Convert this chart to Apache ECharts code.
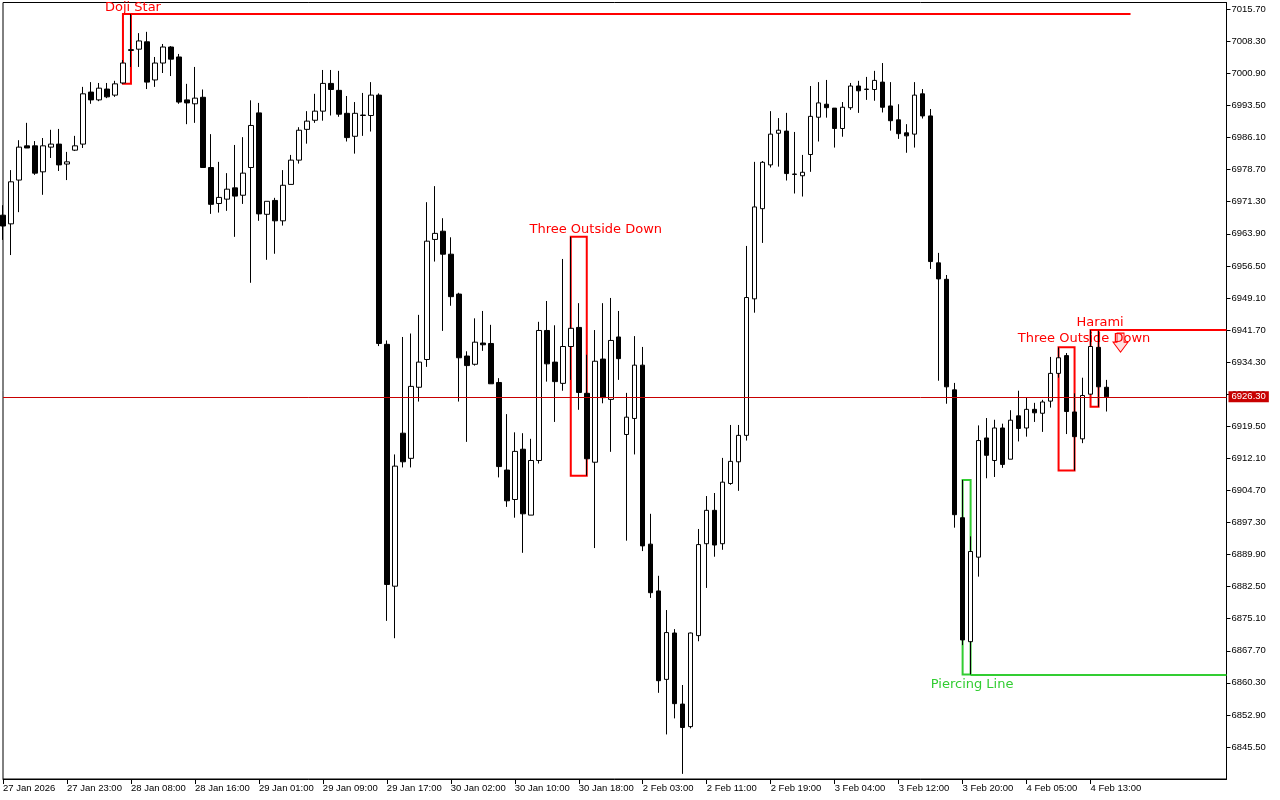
<!DOCTYPE html>
<html>
<head>
<meta charset="utf-8">
<script src="https://cdn.jsdelivr.net/npm/echarts@6/dist/echarts.min.js"></script>
<style>
  html, body { margin: 0; padding: 0; background: #fff; }
  #chart { width: 1280px; height: 800px; }
</style>
</head>
<body>
<div id="chart"></div>
<script>
  // hourly candles, 27 Jan 2026 15:00 .. 4 Feb 2026 13:00
  const opens = [
    6968.2, 6966.2, 6976.3, 6984.2, 6984.2, 6978.2, 6983.9, 6984.6, 6980.0, 6983.2,
    6984.6, 6996.6, 6994.8, 6997.3, 6995.9, 6998.7, 7006.2, 7006.5, 7008.2, 6999.4,
    7003.3, 7007.0, 7004.7, 6994.8, 6993.9, 6995.4, 6979.2, 6970.9, 6971.9, 6974.5,
    6972.8, 6979.2, 6991.8, 6968.4, 6971.6, 6966.9, 6975.3, 6980.9, 6988.0, 6990.1,
    6992.2, 6998.6, 6997.0, 6991.7, 6986.4, 6991.2, 6991.2, 6995.9, 6938.4, 6882.6,
    6917.9, 6912.1, 6928.5, 6934.9, 6962.6, 6964.5, 6959.2, 6950.0, 6935.7, 6933.8,
    6938.7, 6938.6, 6929.6, 6909.4, 6902.6, 6914.2, 6899.0, 6911.6, 6941.6, 6934.3,
    6929.4, 6937.9, 6942.3, 6927.1, 6911.2, 6935.0, 6925.7, 6940.1, 6917.6, 6921.3,
    6933.6, 6892.3, 6881.5, 6861.1, 6871.8, 6855.4, 6850.2, 6871.2, 6892.4, 6900.1,
    6892.4, 6906.3, 6911.3, 6917.4, 6948.9, 6969.7, 6979.8, 6987.1, 6987.6, 6977.6,
    6977.3, 6982.2, 6990.8, 6993.8, 6992.9, 6988.2, 6993.0, 6998.0, 6997.2, 6997.2,
    6998.9, 6993.4, 6990.2, 6987.2, 6986.9, 6996.2, 6991.1, 6957.2, 6953.4, 6927.9,
    6898.4, 6869.8, 6889.3, 6916.8, 6911.6, 6919.1, 6911.9, 6921.9, 6919.1, 6923.4,
    6922.5, 6925.3, 6931.7, 6935.8, 6922.8, 6916.6, 6926.9, 6937.7, 6928.5
  ]
  const closes = [
    6965.7, 6975.9, 6983.9, 6983.7, 6977.9, 6984.2, 6984.6, 6979.8, 6980.5, 6984.2,
    6996.2, 6994.8, 6997.5, 6995.5, 6998.5, 7003.3, 7006.4, 7008.4, 6998.9, 7003.3,
    7007.0, 7004.2, 6994.3, 6994.1, 6995.2, 6979.2, 6970.7, 6972.3, 6974.2, 6972.6,
    6977.9, 6988.9, 6968.5, 6971.4, 6966.9, 6975.1, 6980.9, 6987.8, 6989.9, 6992.2,
    6998.6, 6997.2, 6991.5, 6986.1, 6991.7, 6991.3, 6995.9, 6938.6, 6883.0, 6910.3,
    6911.3, 6928.7, 6934.3, 6962.2, 6964.0, 6959.2, 6949.4, 6935.3, 6933.5, 6938.9,
    6938.3, 6929.3, 6910.2, 6902.3, 6913.7, 6899.3, 6911.6, 6941.6, 6933.9, 6929.8,
    6937.9, 6942.1, 6927.3, 6912.0, 6934.5, 6926.1, 6939.3, 6935.1, 6921.6, 6933.6,
    6891.9, 6881.1, 6860.8, 6871.9, 6855.5, 6850.0, 6871.8, 6892.2, 6900.1, 6892.1,
    6906.6, 6911.4, 6917.4, 6949.2, 6970.1, 6980.4, 6986.9, 6987.8, 6977.8, 6977.7,
    6978.1, 6991.0, 6994.1, 6993.0, 6988.2, 6993.1, 6998.0, 6996.9, 6997.3, 6999.3,
    6993.1, 6990.0, 6987.0, 6986.5, 6995.9, 6991.1, 6957.5, 6953.5, 6928.6, 6899.1,
    6870.2, 6890.6, 6916.2, 6912.8, 6919.1, 6910.7, 6920.9, 6919.0, 6923.4, 6922.6,
    6925.1, 6931.7, 6935.3, 6922.9, 6917.1, 6926.6, 6937.9, 6928.6, 6926.3
  ]
  const lows = [
    6962.5, 6959.0, 6968.9, 6983.7, 6977.5, 6972.9, 6981.4, 6978.4, 6976.3, 6983.0,
    6983.7, 6993.9, 6994.5, 6995.2, 6995.5, 6998.5, 7002.4, 7002.4, 6997.3, 6997.8,
    7001.0, 7000.3, 6993.9, 6989.2, 6989.5, 6979.1, 6968.5, 6968.8, 6969.2, 6963.2,
    6970.8, 6952.6, 6966.9, 6957.9, 6959.3, 6965.8, 6975.3, 6980.1, 6984.7, 6989.5,
    6990.0, 6991.2, 6990.9, 6985.2, 6982.4, 6986.5, 6987.5, 6938.0, 6874.6, 6870.6,
    6910.0, 6910.0, 6925.2, 6933.2, 6957.5, 6941.5, 6947.3, 6925.2, 6915.9, 6933.5,
    6936.9, 6929.3, 6907.7, 6900.9, 6898.4, 6890.3, 6899.0, 6910.9, 6929.8, 6920.5,
    6927.7, 6930.2, 6923.3, 6908.1, 6891.4, 6924.8, 6913.6, 6930.2, 6893.1, 6913.0,
    6890.7, 6879.9, 6858.0, 6848.4, 6852.1, 6839.3, 6849.8, 6869.9, 6882.2, 6889.4,
    6891.0, 6906.0, 6904.6, 6916.2, 6945.7, 6961.8, 6979.2, 6979.4, 6976.2, 6973.2,
    6972.5, 6978.2, 6985.2, 6990.7, 6983.8, 6986.3, 6992.5, 6991.8, 6994.8, 6994.6,
    6991.9, 6987.7, 6985.8, 6982.6, 6983.8, 6990.5, 6955.8, 6930.0, 6924.7, 6896.1,
    6869.0, 6862.2, 6884.8, 6907.5, 6907.8, 6909.9, 6911.9, 6916.0, 6917.1, 6920.5,
    6918.2, 6923.8, 6930.7, 6917.7, 6909.3, 6915.6, 6926.8, 6924.0, 6922.9
  ]
  const highs = [
    6970.5, 6978.6, 6985.5, 6989.5, 6985.3, 6986.0, 6987.9, 6988.1, 6982.8, 6986.5,
    6997.8, 6998.9, 6998.7, 6998.7, 6999.2, 7004.0, 7014.6, 7010.2, 7010.5, 7004.7,
    7007.7, 7007.2, 7005.4, 6998.5, 7002.4, 6997.2, 6986.9, 6980.5, 6977.9, 6984.4,
    6986.2, 6994.7, 6994.1, 6971.4, 6972.2, 6978.6, 6982.1, 6988.5, 6992.2, 6996.2,
    7001.7, 7001.7, 7001.5, 6995.7, 6994.3, 6996.4, 6998.9, 6996.3, 6939.3, 6913.0,
    6940.1, 6940.9, 6945.2, 6971.2, 6974.9, 6967.5, 6963.1, 6950.3, 6936.8, 6944.4,
    6946.1, 6942.9, 6930.6, 6922.3, 6918.1, 6917.9, 6916.6, 6943.6, 6948.4, 6942.8,
    6958.1, 6963.2, 6947.9, 6936.0, 6941.7, 6947.9, 6949.1, 6946.1, 6927.2, 6940.3,
    6937.8, 6899.3, 6885.0, 6877.1, 6872.7, 6859.8, 6871.9, 6895.8, 6903.4, 6904.1,
    6912.2, 6919.8, 6919.8, 6961.1, 6980.5, 6980.7, 6992.2, 6990.6, 6991.8, 6987.4,
    6982.1, 6998.0, 6998.9, 6999.4, 6992.9, 6994.3, 6998.7, 6999.2, 7000.1, 7001.5,
    7003.3, 6998.9, 6993.8, 6989.2, 6998.9, 6997.3, 6992.7, 6959.5, 6954.4, 6929.5,
    6907.1, 6894.1, 6919.7, 6921.4, 6921.0, 6920.1, 6923.2, 6927.7, 6926.2, 6924.9,
    6925.6, 6935.5, 6937.7, 6936.4, 6927.1, 6930.7, 6941.7, 6941.6, 6930.2
  ]
  // one tick label every 8 bars
  const timeLabels = [
    '27 Jan 2026', '27 Jan 23:00', '28 Jan 08:00', '28 Jan 16:00', '29 Jan 01:00',
    '29 Jan 09:00', '29 Jan 17:00', '30 Jan 02:00', '30 Jan 10:00', '30 Jan 18:00',
    '2 Feb 03:00', '2 Feb 11:00', '2 Feb 19:00', '3 Feb 04:00', '3 Feb 12:00',
    '3 Feb 20:00', '4 Feb 05:00', '4 Feb 13:00'
  ]
  const priceTicks = [
    7015.7, 7008.3, 7000.9, 6993.5, 6986.1, 6978.7, 6971.3, 6963.9, 6956.5, 6949.1,
    6941.7, 6934.3, 6926.9, 6919.5, 6912.1, 6904.7, 6897.3, 6889.9, 6882.5, 6875.1,
    6867.7, 6860.3, 6852.9, 6845.5
  ]
  const lastPrice = 6926.3
  // candle patterns: name, first bar, last bar, high, low
  const patternNames = ['Doji Star', 'Three Outside Down', 'Piercing Line', 'Three Outside Down', 'Harami']
  const patternFrom = [15, 71, 120, 132, 136]
  const patternTo = [16, 73, 121, 134, 137]
  const patternHigh = [7014.6, 6963.2, 6907.1, 6937.7, 6941.7]
  const patternLow = [6998.5, 6908.1, 6862.2, 6909.3, 6924.0]
  const patternBull = [false, false, true, false, false]
  // levels drawn from a pattern: from bar, to bar, price
  const levelFrom = [16, 137, 121]
  const levelTo = [141, 153, 153]
  const levelPrice = [7014.6, 6941.7, 6862.2]
  const levelBull = [false, false, true]
  const arrowBar = 140
  const arrowPrice = 6938.8

  const totalBars = 154
  const categories = []
  for (let i = 0; i < totalBars; i++) categories.push(String(i))
  const candles = opens.map((o, i) => [o, closes[i], lows[i], highs[i]])

  const RED = '#ff0000'
  const GREEN = '#32cd32'
  const AXIS_FONT = 'Liberation Sans'

  const labelOffsets = [[6, 2], [17, 1], [5.5, 2], [17.5, 0], [5.5, 1]]
  const areas = patternNames.map((name, k) => {
    const c = patternBull[k] ? GREEN : RED
    return [{
      name: name,
      coord: [patternFrom[k], patternHigh[k]],
      itemStyle: { color: 'transparent', borderColor: c, borderWidth: 2 },
      label: {
        show: true,
        position: patternBull[k] ? 'bottom' : 'top',
        distance: 1,
        offset: labelOffsets[k],
        color: c,
        fontFamily: 'DejaVu Sans',
        fontSize: 13
      }
    }, {
      coord: [patternTo[k], patternLow[k]]
    }]
  })

  const lines = levelPrice.map((p, k) => [{
    coord: [levelFrom[k], p],
    lineStyle: { color: levelBull[k] ? GREEN : RED, width: 2, type: 'solid' },
    label: { show: false }
  }, {
    coord: [levelTo[k], p]
  }])
  lines.push({
    yAxis: lastPrice,
    lineStyle: { color: '#c80000', width: 1, type: 'solid' },
    label: {
      show: true,
      position: 'end',
      distance: 2,
      formatter: lastPrice.toFixed(2),
      backgroundColor: '#c80000',
      color: '#ffffff',
      padding: [1, 3, 0, 3],
      fontFamily: AXIS_FONT,
      fontSize: 9.5
    }
  })

  const chart = echarts.init(document.getElementById('chart'), null, { renderer: 'canvas' })
  chart.setOption({
    animation: false,
    backgroundColor: '#ffffff',
    grid: {
      left: 2.5,
      top: 2.5,
      width: 1224,
      height: 776.5,
      show: true,
      borderColor: '#000',
      borderWidth: 1,
      backgroundColor: 'transparent'
    },
    xAxis: {
      type: 'category',
      data: categories,
      boundaryGap: false,
      axisLine: { show: true, lineStyle: { color: '#000', width: 1 } },
      axisTick: {
        show: true,
        length: 5,
        interval: (i) => i % 8 === 0 && i / 8 < timeLabels.length,
        lineStyle: { color: '#000' }
      },
      axisLabel: {
        interval: 7,
        showMinLabel: true,
        hideOverlap: false,
        align: 'left',
        margin: 4,
        color: '#000',
        fontFamily: AXIS_FONT,
        fontSize: 9.5,
        formatter: (v, i) => timeLabels[i / 8] || ''
      },
      splitLine: { show: false }
    },
    yAxis: {
      type: 'value',
      position: 'right',
      scale: true,
      min: 6838.116,
      max: 7017.269,
      axisLine: { show: true, lineStyle: { color: '#000', width: 1 } },
      axisTick: { show: true, length: 4, customValues: priceTicks, lineStyle: { color: '#000' } },
      axisLabel: {
        customValues: priceTicks,
        margin: 5,
        color: '#000',
        fontFamily: AXIS_FONT,
        fontSize: 9.5,
        formatter: (v) => Number(v).toFixed(2)
      },
      splitLine: { show: false }
    },
    series: [{
      type: 'candlestick',
      data: candles,
      barWidth: 5,
      itemStyle: {
        color: '#ffffff',
        color0: '#000000',
        borderColor: '#000000',
        borderColor0: '#000000',
        borderWidth: 1
      },
      emphasis: { disabled: true },
      markArea: { silent: true, data: areas },
      markLine: { silent: true, symbol: 'none', animation: false, data: lines },
      markPoint: {
        silent: true,
        data: [{
          coord: [arrowBar, arrowPrice],
          symbol: 'path://M4,0L11,0L11,9L15,9L7.5,19L0,9L4,9Z',
          symbolSize: [15, 19],
          symbolOffset: [-2, 0],
          itemStyle: { color: 'rgba(255,0,0,0.12)', borderColor: RED, borderWidth: 1 },
          label: { show: false }
        }]
      }
    }]
  })
</script>
</body>
</html>
